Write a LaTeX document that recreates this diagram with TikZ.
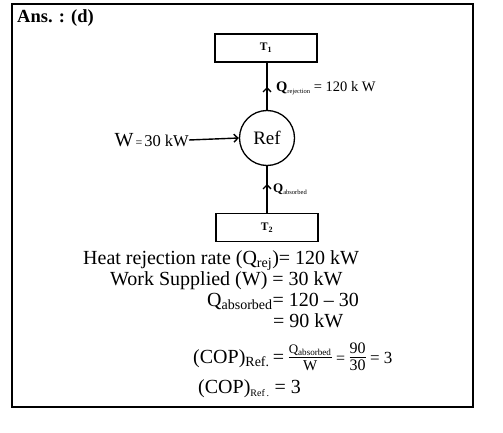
\documentclass[tikz,border=0pt]{standalone}
\usepackage{amsmath}
\usepackage{fontspec}
\setmainfont{Liberation Serif}
\usetikzlibrary{arrows.meta}
\begin{document}
\begin{tikzpicture}[x=1pt,y=-1pt,
  tbox/.style={draw,line width=1.3pt,minimum width=102pt,minimum height=28pt,inner sep=0pt,font=\fontsize{11.5}{13}\selectfont\bfseries},
  conn/.style={line width=1.4pt},
  arr/.style={line width=1.4pt,-{Straight Barb[length=4pt,width=8pt,line width=1.4pt]}},
  txt/.style={anchor=base west,inner sep=0pt,font=\fontsize{20}{24}\selectfont}]
\useasboundingbox (0,0) rectangle (503,433);
\draw[line width=1.2pt] (12,4) rectangle (473,407);
\node[anchor=base west,inner sep=0pt,font=\fontsize{18.5}{20}\selectfont\bfseries] (ans) at (17,23) {Ans. : (d)};
% diagram
\node[tbox] (t1) at (266,48) {T\textsubscript{1}};
\node[circle,draw,line width=1.3pt,minimum size=55pt,inner sep=0pt,font=\fontsize{19}{22}\selectfont] (ref) at (267,138) {Ref};
\node[tbox] (t2) at (267,227.5) {T\textsubscript{2}};
\coordinate (m1) at (267,87);
\coordinate (m2) at (267,184);
\draw[conn] (ref.north) -- (ref.north |- t1.south);
\draw[arr] (ref.north) -- (m1);
\draw[conn] (ref.south) -- (ref.south |- t2.north);
\draw[arr] (ref.south |- t2.north) -- (m2);
\node[anchor=west,inner sep=0pt,font=\fontsize{14.5}{16}\selectfont] (qrl) at (276,88) {\textbf{Q}{\fontsize{6.5}{7}\selectfont\raisebox{-2pt}{rejection}} = 120 k W};
\node[anchor=west,inner sep=0pt,font=\fontsize{13}{15}\selectfont] (qal) at (273,189) {\textbf{Q}{\fontsize{6.5}{7}\selectfont\raisebox{-2pt}{absorbed}}};
\node[anchor=east,inner sep=0pt] (w) at (189,140) {{\fontsize{20}{22}\selectfont W}{\fontsize{12}{14}\selectfont\,=\,}{\fontsize{16.5}{18}\selectfont 30 kW}};
\draw[arr] (w.east) -- (ref.west);
% text
\node[txt] (l1) at (83,264) {Heat rejection rate (Q\textsubscript{rej})= 120 kW};
\node[txt] (l2) at (110,285) {Work Supplied (W) = 30 kW};
\node[txt] (l3) at (207,306) {Q\textsubscript{absorbed}= 120 – 30};
\node[txt] (l4) at (273,327) {= 90 kW};
\node[txt] (l5) at (193,363) {(COP)\textsubscript{Ref.}\,=\,$\tfrac{\mbox{\fontsize{13}{15}\selectfont Q\textsubscript{absorbed}\rule[-3pt]{0pt}{0pt}}}{\mbox{\fontsize{15}{17}\selectfont W}}$\,{\fontsize{16}{18}\selectfont=}\,$\tfrac{\mbox{\fontsize{16}{18}\selectfont 90\rule[-3pt]{0pt}{0pt}}}{\mbox{\fontsize{16}{18}\selectfont 30}}$\,{\fontsize{17}{18}\selectfont = 3}};
\node[txt] (l6) at (198,393) {(COP)\textsubscript{\fontsize{10}{11}\selectfont Ref\,.} = 3};
\end{tikzpicture}
\end{document}
